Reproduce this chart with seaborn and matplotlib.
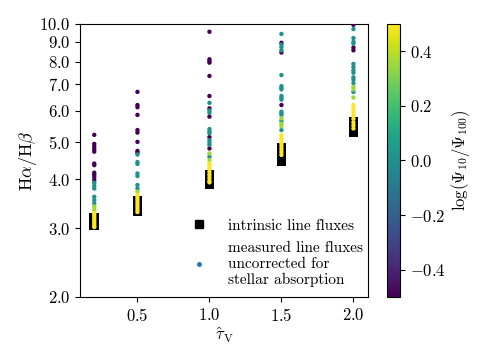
import numpy as np
import pandas as pd
import matplotlib
matplotlib.use("Agg")
import matplotlib.pyplot as plt
from matplotlib.lines import Line2D
from matplotlib.ticker import FixedLocator, FixedFormatter, NullLocator
import seaborn as sns

# optical depths of the model grid
tau_values = [0.2, 0.5, 1.0, 1.5, 2.0]

# intrinsic Halpha/Hbeta (black squares)
intr_02 = [3.06, 3.10, 3.14, 3.19]
intr_05 = [3.32, 3.38, 3.45, 3.52]
intr_10 = [3.89, 3.96, 4.03, 4.10]
intr_15 = [4.46, 4.56, 4.68, 4.81]
intr_20 = [5.29, 5.38, 5.49, 5.61]

# measured ratios, uncorrected for stellar absorption, and log(Psi10/Psi100)
meas_02 = [5.20, 4.93, 4.85, 4.78, 4.71, 4.39, 4.35, 4.16, 4.11, 4.05, 3.98,
           3.92, 3.85, 3.79, 3.61, 3.54, 3.47,
           3.41, 3.34,
           3.28, 3.24, 3.20, 3.16, 3.12, 3.08, 3.04, 3.02]
psi_02 = [-0.5] * 11 + [0.0] * 6 + [0.35] * 2 + [0.5] * 8

meas_05 = [6.70, 6.20, 6.12, 5.85, 5.35, 5.27, 4.99, 4.73, 4.68,
           4.63, 4.43, 4.38, 4.14, 4.08, 3.87, 3.79,
           3.72,
           3.65, 3.60, 3.55, 3.50, 3.45, 3.40, 3.35, 3.30]
psi_05 = [-0.5] * 9 + [0.0] * 7 + [0.35] * 1 + [0.5] * 8

meas_10 = [9.55, 8.12, 8.03, 7.96, 7.36, 6.54, 6.08, 5.79, 5.13, 4.80,
           6.28, 6.00, 5.92, 5.38, 5.30, 5.25, 5.04, 4.97, 4.90, 4.57,
           4.66, 4.48,
           4.39, 4.32, 4.25, 4.18, 4.11, 4.04, 3.97, 3.93]
psi_10 = [-0.5] * 10 + [0.0] * 10 + [0.35] * 2 + [0.5] * 8

meas_15 = [8.95, 8.45, 6.20,
           9.43, 8.85, 8.72, 8.56, 7.40, 6.93, 6.86, 6.80, 6.54, 6.47, 6.40,
           5.96, 5.90, 5.85, 5.64, 5.35,
           5.73, 5.55, 5.47,
           5.19, 5.10, 5.02, 4.94, 4.86, 4.78, 4.70, 4.62]
psi_15 = [-0.5] * 3 + [0.0] * 16 + [0.35] * 3 + [0.5] * 8

meas_20 = [9.95, 8.70, 8.56,
           9.70, 9.20, 9.00, 8.90, 7.90, 7.75, 7.60, 7.50, 7.30, 7.20, 7.05, 6.70,
           6.90, 6.80, 6.48,
           6.20, 6.08, 5.96, 5.84, 5.72, 5.60, 5.50, 5.40]
psi_20 = [-0.5] * 3 + [0.0] * 12 + [0.35] * 3 + [0.5] * 8

y_ticks = [2.0, 3.0, 4.0, 5.0, 6.0, 7.0, 8.0, 9.0, 10.0]

plt.rcParams["font.family"] = "serif"
plt.rcParams["font.serif"] = ["cmr10", "DejaVu Serif"]
plt.rcParams["mathtext.fontset"] = "cm"
plt.rcParams["axes.formatter.use_mathtext"] = True
plt.rcParams["font.size"] = 12

intr_all = [intr_02, intr_05, intr_10, intr_15, intr_20]
meas_all = [meas_02, meas_05, meas_10, meas_15, meas_20]
psi_all = [psi_02, psi_05, psi_10, psi_15, psi_20]

df_intr = pd.concat([pd.DataFrame({"tau": t, "ratio": r}) for t, r in zip(tau_values, intr_all)])
df_meas = pd.concat([pd.DataFrame({"tau": t, "ratio": r, "psi": p})
                     for t, r, p in zip(tau_values, meas_all, psi_all)])
# draw the yellow (high psi) points last, like in the original
df_meas = df_meas.sort_values("psi", kind="stable")

fig = plt.figure(figsize=(4.84, 3.63), dpi=100)
ax = fig.add_axes([0.165, 0.182, 0.595, 0.752])
cax = fig.add_axes([0.800, 0.182, 0.027, 0.752])

sns.scatterplot(data=df_intr, x="tau", y="ratio", marker="s", color="black",
                s=48, edgecolor="none", ax=ax, zorder=2)
sns.scatterplot(data=df_meas, x="tau", y="ratio", hue="psi", palette="viridis",
                hue_norm=(-0.5, 0.5), s=10, edgecolor="none", legend=False, ax=ax, zorder=3)

ax.set_yscale("log")
ax.set_ylim(2.0, 10.0)
ax.set_xlim(0.1, 2.1)
ax.yaxis.set_major_locator(FixedLocator(y_ticks))
ax.yaxis.set_major_formatter(FixedFormatter([f"${v:.1f}$" for v in y_ticks]))
ax.yaxis.set_minor_locator(NullLocator())
ax.set_xticks([0.5, 1.0, 1.5, 2.0])
ax.set_xticklabels(["$0.5$", "$1.0$", "$1.5$", "$2.0$"])
ax.set_xlabel(r"$\hat{\tau}_\mathrm{V}$", labelpad=1)
ax.set_ylabel(r"$\mathrm{H}\alpha/\mathrm{H}\beta$", fontsize=13, labelpad=0)

handles = [
    Line2D([], [], marker="s", color="black", linestyle="none", markersize=6),
    Line2D([], [], marker="o", color="C0", linestyle="none", markersize=2.5),
]
ax.legend(handles, ["intrinsic line fluxes",
                    "measured line fluxes\nuncorrected for\nstellar absorption"],
          loc="lower right", bbox_to_anchor=(1.03, -0.015), frameon=False, fontsize=11,
          handletextpad=0.9, labelspacing=0.55)

sm = plt.cm.ScalarMappable(cmap="viridis", norm=plt.Normalize(-0.5, 0.5))
cbar = fig.colorbar(sm, cax=cax)
cbar.set_ticks([-0.4, -0.2, 0.0, 0.2, 0.4])
cbar.set_label(r"$\log(\Psi_{10}/\Psi_{100})$", labelpad=2)

fig.savefig("out.png", dpi=100)
